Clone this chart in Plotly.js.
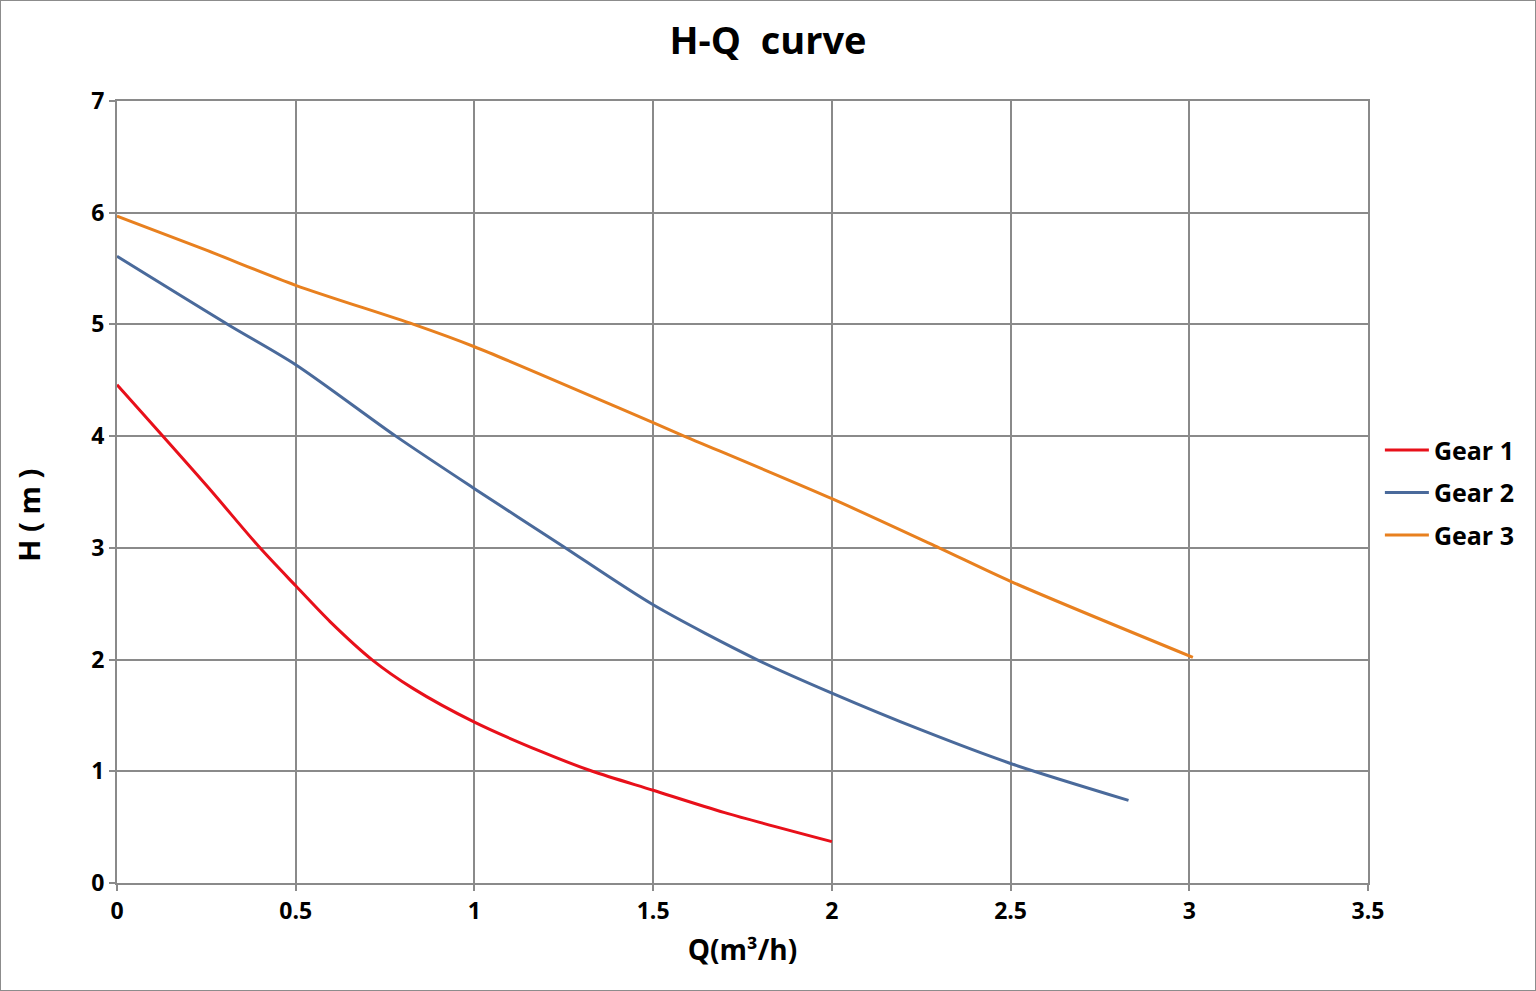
<!DOCTYPE html>
<html>
<head>
<meta charset="utf-8">
<script src="https://cdn.plot.ly/plotly-3.0.1.min.js"></script>
<style>
html,body{margin:0;padding:0;background:#fff;}
#wrap{position:absolute;left:0;top:0;width:1534px;height:989px;border:1px solid #8c8c8c;}
#chart{width:1534px;height:989px;}
</style>
</head>
<body>
<div id="wrap"><div id="chart"></div></div>
<script>
// Gear 1 (red)
const gear1Q = [0, 0.25, 0.40, 0.50, 0.596, 0.713, 0.829, 1.00, 1.184, 1.33, 1.50, 1.70, 2.00];
const gear1H = [4.46, 3.56, 3.00, 2.66, 2.34, 2.00, 1.74, 1.44, 1.18, 1.00, 0.83, 0.63, 0.37];
// Gear 2 (blue)
const gear2Q = [0, 0.31, 0.50, 0.78, 1.00, 1.24, 1.50, 1.79, 2.00, 2.25, 2.50, 2.83];
const gear2H = [5.61, 5.00, 4.64, 4.00, 3.53, 3.03, 2.49, 2.00, 1.70, 1.37, 1.07, 0.74];
// Gear 3 (orange)
const gear3Q = [0, 0.25, 0.50, 0.83, 1.00, 1.34, 1.50, 1.58, 2.00, 2.30, 2.50, 3.01];
const gear3H = [5.97, 5.665, 5.35, 5.00, 4.80, 4.34, 4.12, 4.01, 3.44, 3.00, 2.70, 2.02];

const seriesNames = ["Gear 1", "Gear 2", "Gear 3"];
const seriesColors = ["#e8101a", "#4a6a9b", "#e8801f"];

const titleText = "H-Q\u00A0\u00A0curve";
const xTitle = "Q(m³/h)";
const yTitle = "H\u00A0(\u00A0m\u00A0)";

const FONT = "'Open Sans', 'Noto Sans', sans-serif";
const GRID = "#8a8a8a";

const mk = (q, h, i) => ({
  x: q, y: h, type: "scatter", mode: "lines", name: seriesNames[i],
  legendgroup: "g" + i,
  line: {color: seriesColors[i], width: 3, shape: "spline", smoothing: 0.8}
});

const data = [mk(gear1Q, gear1H, 0), mk(gear2Q, gear2H, 1), mk(gear3Q, gear3H, 2)];

const layout = {
  width: 1534, height: 989,
  paper_bgcolor: "#fff", plot_bgcolor: "#fff",
  margin: {l: 116, r: 167, t: 100, b: 107},
  title: {text: titleText, x: 0.5, xanchor: "center", y: 0.96, yanchor: "middle",
          font: {family: FONT, size: 38, color: "#000", weight: "bold"}},
  font: {family: FONT, color: "#000"},
  xaxis: {
    range: [0, 3.5], dtick: 0.5, tick0: 0, showgrid: true, gridcolor: GRID, gridwidth: 2,
    showline: true, linecolor: GRID, linewidth: 2, mirror: true,
    ticks: "outside", ticklen: 6, tickcolor: GRID, tickwidth: 2,
    zeroline: false, fixedrange: true,
    tickfont: {family: FONT, size: 23, weight: "bold", color: "#000"},
    title: {text: xTitle, standoff: 16, font: {family: FONT, size: 28, weight: "bold", color: "#000"}}
  },
  yaxis: {
    range: [0, 7], dtick: 1, tick0: 0, showgrid: true, gridcolor: GRID, gridwidth: 2,
    showline: true, linecolor: GRID, linewidth: 2, mirror: true,
    ticks: "outside", ticklen: 6, tickcolor: GRID, tickwidth: 2,
    zeroline: false, fixedrange: true,
    tickfont: {family: FONT, size: 23, weight: "bold", color: "#000"}
  },
  annotations: [{
    text: yTitle, xref: "paper", yref: "paper", x: -0.071, y: 0.47,
    xanchor: "center", yanchor: "middle", textangle: -90, showarrow: false,
    font: {family: FONT, size: 29, weight: "bold", color: "#000"}
  }],
  showlegend: true,
  legend: {x: 1.0095, xanchor: "left", y: 0.499, yanchor: "middle",
           font: {family: FONT, size: 25, weight: "bold", color: "#000"},
           bgcolor: "rgba(0,0,0,0)", traceorder: "grouped", tracegroupgap: 7, itemwidth: 44}
};

Plotly.newPlot("chart", data, layout, {displayModeBar: false, staticPlot: true});
</script>
</body>
</html>
